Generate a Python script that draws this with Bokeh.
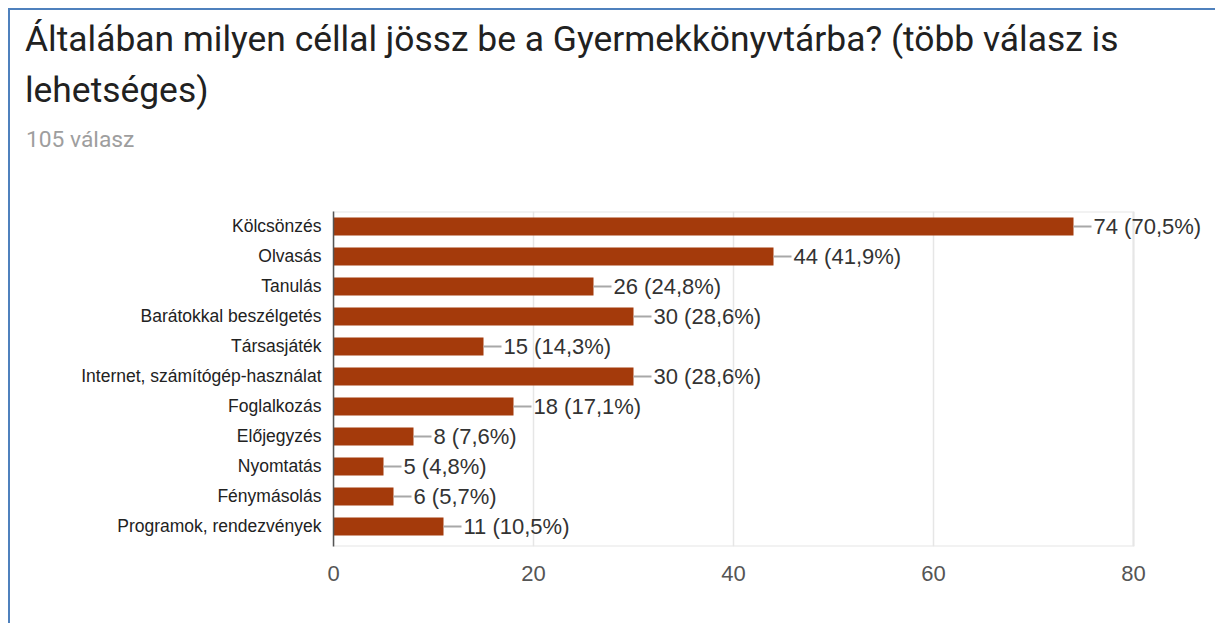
from bokeh.plotting import figure
from bokeh.layouts import column
from bokeh.models import Range1d, FixedTicker, LabelSet, ColumnDataSource, Div
from bokeh.core.properties import value
from bokeh.embed import file_html
from bokeh.resources import INLINE

categories = ["Kölcsönzés", "Olvasás", "Tanulás", "Barátokkal beszélgetés", "Társasjáték",
              "Internet, számítógép-használat", "Foglalkozás", "Előjegyzés", "Nyomtatás",
              "Fénymásolás", "Programok, rendezvények"]
counts = [74, 44, 26, 30, 15, 30, 18, 8, 5, 6, 11]
percents = ["70,5%", "41,9%", "24,8%", "28,6%", "14,3%", "28,6%", "17,1%",
            "7,6%", "4,8%", "5,7%", "10,5%"]
x_ticks = [0, 20, 40, 60, 80]
title_lines = ["Általában milyen céllal jössz be a Gyermekkönyvtárba? (több válasz is",
               "lehetséges)"]
subtitle = "105 válasz"

positions = list(range(len(categories)))
labels = [f"{c} ({pc})" for c, pc in zip(counts, percents)]

source = ColumnDataSource(dict(
    y=positions, count=counts, label=labels,
    lead_end=[c + 1.8 for c in counts],
))

W = 1205
HT = 201          # height of the heading area
HM = 412          # height of the chart area
Y_TOP, Y_BOT = -0.5, 10.667
X_MAX = 80

# ---------------- heading ----------------
def line(txt, left, top, size, color):
    return (f'<div style="position:absolute;left:{left}px;top:{top}px;'
            f'font-size:{size}px;line-height:{size}px;color:{color};'
            f'white-space:nowrap;font-family:Roboto;">{txt}</div>')

heading_html = (f'<div style="position:relative;width:{W}px;height:{HT}px;">'
                + line(title_lines[0], 15, 12, 35.4, "#212121")
                + line(title_lines[1], 15, 63, 35.4, "#212121")
                + line(subtitle, 16, 118.5, 22.8, "#9e9e9e")
                + '</div>')
t = Div(text=heading_html, width=W, height=HT, margin=0)

# ---------------- chart ----------------
p = figure(width=W, height=HM, output_backend="svg", toolbar_location=None,
           x_range=Range1d(0, 88.2), y_range=Range1d(Y_BOT, Y_TOP), title=None,
           min_border_left=323, min_border_right=0, min_border_top=0,
           min_border_bottom=HM - 335)
p.background_fill_color = "white"
p.border_fill_color = "white"
p.outline_line_color = None

# light frame around the plotting area (0..80)
p.quad(left=[0], right=[X_MAX], top=[Y_TOP], bottom=[Y_BOT], fill_color=None,
       line_color="#e6e6e6", line_width=2)

p.hbar(y="y", left=0, right="count", height=0.6, source=source,
       fill_color="#a43a0b", line_color=None)
p.segment(x0="count", y0="y", x1="lead_end", y1="y", source=source,
          line_color="#a8a8a8", line_width=2)

ls = LabelSet(x="count", y="y", text="label", source=source, x_offset=20,
              text_baseline="middle", text_align="left",
              text_font=value("Liberation Sans"), text_font_size="22px",
              text_color="#333333")
p.add_layout(ls)

p.yaxis.ticker = FixedTicker(ticks=positions)
p.yaxis.major_label_overrides = {i: c for i, c in enumerate(categories)}
p.yaxis.major_label_text_font = "Liberation Sans"
p.yaxis.major_label_text_font_size = "17.5px"
p.yaxis.major_label_text_color = "#222222"
p.yaxis.major_tick_line_color = None
p.yaxis.minor_tick_line_color = None
p.yaxis.major_tick_out = 0
p.yaxis.major_tick_in = 0
p.yaxis.axis_line_color = "#555555"
p.yaxis.axis_line_width = 1.5
p.yaxis.major_label_standoff = 12

p.xaxis.ticker = FixedTicker(ticks=x_ticks)
p.xaxis.major_label_text_font = "Liberation Sans"
p.xaxis.major_label_text_font_size = "22px"
p.xaxis.major_label_text_color = "#555555"
p.xaxis.axis_line_color = None
p.xaxis.major_tick_line_color = None
p.xaxis.minor_tick_line_color = None
p.xaxis.major_tick_out = 0
p.xaxis.major_tick_in = 0
p.xaxis.major_label_standoff = 19

p.xgrid.ticker = FixedTicker(ticks=x_ticks)
p.xgrid.grid_line_color = "#e6e6e6"
p.xgrid.grid_line_width = 1.5
p.ygrid.grid_line_color = None

layout = column(t, p, spacing=0)
layout.styles = {"margin-left": "8px", "margin-top": "8px",
                 "border-top": "2px solid #4f81bd", "border-left": "2px solid #4f81bd"}

open("out.html", "w").write(file_html(layout, INLINE))
